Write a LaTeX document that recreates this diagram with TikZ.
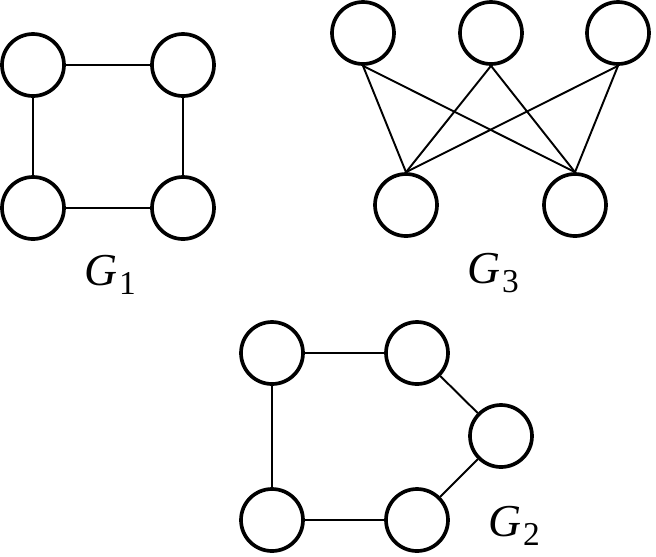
\documentclass[tikz,border=0pt]{standalone}
\usepackage{fontspec}
\setmainfont{Liberation Serif}
\tikzset{
  vertex/.style={circle,draw=black,line width=2.1pt,minimum size=1.24cm,inner sep=0pt},
  edge/.style={draw=black,line width=1.1pt},
  glabel/.style={font=\fontsize{26}{30}\selectfont}
}
\newcommand{\glab}[1]{\textit{G}\kern1pt\raisebox{-0.45ex}{\fontsize{19}{22}\selectfont #1}} % graph name

\begin{document}
\begin{tikzpicture}[x=0.02cm,y=-0.02cm]
  \useasboundingbox (0,0) rectangle (656,556);
  % G1
  \node[vertex] (a1) at (33,65) {};
  \node[vertex] (a2) at (183,65) {};
  \node[vertex] (a3) at (33,208) {};
  \node[vertex] (a4) at (183,208) {};
  \draw[edge] (a1) -- (a2) -- (a4) -- (a3) -- (a1);
  \node[glabel] (g1) at (110,275) {\glab{1}};
  % G3
  \node[vertex] (b1) at (363,33) {};
  \node[vertex] (b2) at (491,33) {};
  \node[vertex] (b3) at (618,33) {};
  \node[vertex] (b4) at (406,205) {};
  \node[vertex] (b5) at (575,205) {};
  \foreach \t in {b1,b2,b3}
    \foreach \b in {b4,b5}
      \draw[edge] (\t.south) -- (\b.north);
  \node[glabel] (g3) at (493,273) {\glab{3}};
  % G2
  \node[vertex] (c1) at (272,353) {};
  \node[vertex] (c2) at (417,353) {};
  \node[vertex] (c3) at (501,436) {};
  \node[vertex] (c4) at (272,520) {};
  \node[vertex] (c5) at (417,520) {};
  \draw[edge] (c1) -- (c2) -- (c3) -- (c5) -- (c4) -- (c1);
  \node[glabel] (g2) at (514,526) {\glab{2}};
\end{tikzpicture}
\end{document}
